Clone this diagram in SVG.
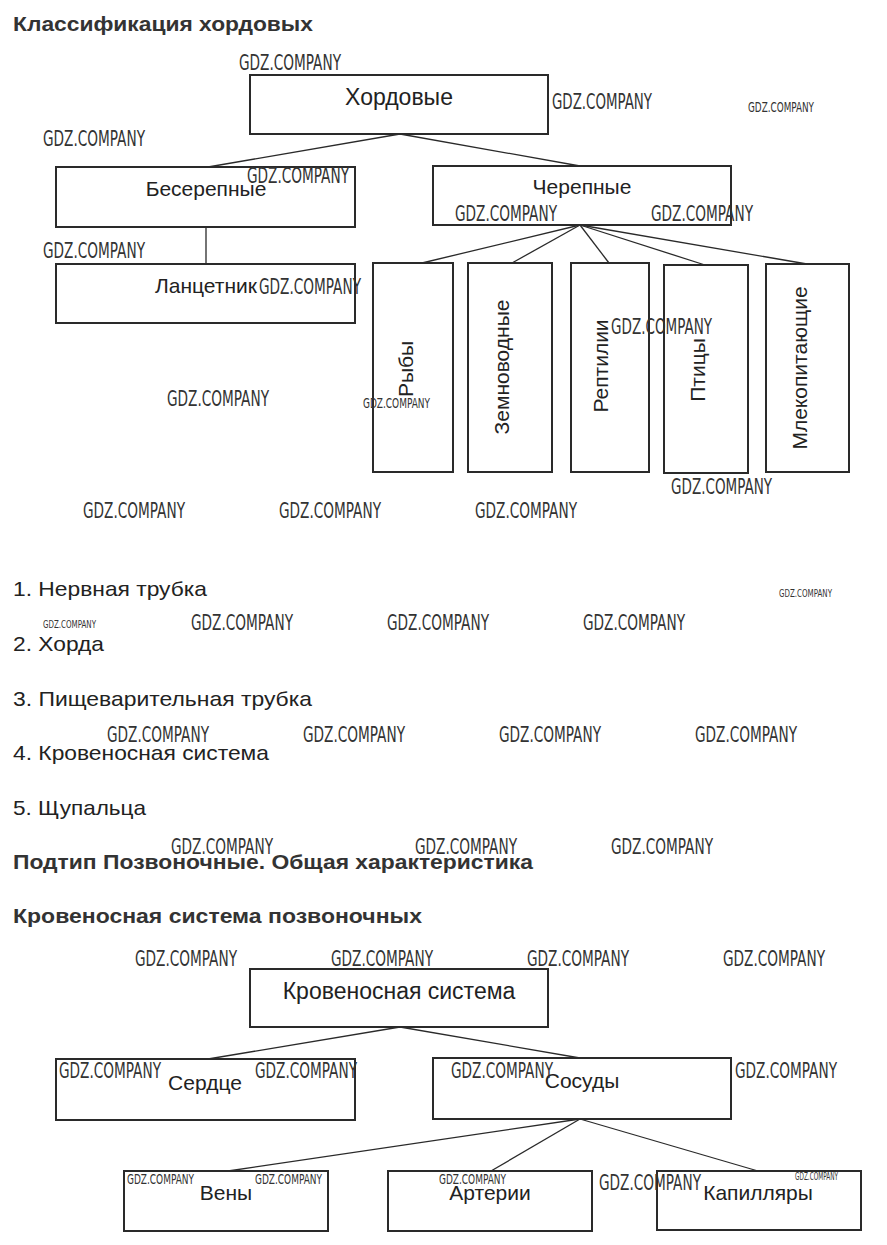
<svg xmlns="http://www.w3.org/2000/svg" width="887" height="1245" viewBox="0 0 887 1245">
<style>
.bg{fill:#fff}
.box{fill:#fff;stroke:#2a2a2a;stroke-width:2}
.ln{stroke:#2a2a2a;stroke-width:1.3;fill:none}
.lbl{font-family:"Liberation Sans",Arial,sans-serif;font-size:21px;fill:#222;text-anchor:middle}
.big{font-size:23px}
.h{font-family:"Liberation Sans",Arial,sans-serif;font-size:21px;font-weight:bold;fill:#333}
.li{font-family:"Liberation Sans",Arial,sans-serif;font-size:21px;fill:#222}
.wm{font-family:"Liberation Sans Narrow","DejaVu Sans Condensed","Liberation Sans",sans-serif;font-size:22px;fill:#333}
.wms{font-family:"Liberation Sans Narrow","DejaVu Sans Condensed","Liberation Sans",sans-serif;font-size:14px;fill:#333}
.wmt{font-family:"Liberation Sans Narrow","DejaVu Sans Condensed","Liberation Sans",sans-serif;font-size:10px;fill:#333}
</style>
<rect class="bg" x="0" y="0" width="887" height="1245"/>

<text class="h" x="13" y="31" textLength="300" lengthAdjust="spacingAndGlyphs">Классификация хордовых</text>

<g id="connectors1">
<line class="ln" x1="400" y1="134" x2="208" y2="167"/>
<line class="ln" x1="400" y1="134" x2="580" y2="166"/>
<line class="ln" x1="206" y1="227" x2="206" y2="264"/>
<line class="ln" x1="580" y1="225" x2="422" y2="263"/>
<line class="ln" x1="580" y1="225" x2="512" y2="263"/>
<line class="ln" x1="580" y1="225" x2="609" y2="263"/>
<line class="ln" x1="580" y1="225" x2="705" y2="265"/>
<line class="ln" x1="580" y1="225" x2="807" y2="264"/>
</g>

<g id="n-hordovye"><rect class="box" x="250" y="75" width="298" height="59"/><text class="lbl big" x="399" y="105">Хордовые</text></g>
<g id="n-beserepnye"><rect class="box" x="56" y="167" width="299" height="60"/><text class="lbl" x="206" y="196">Бесерепные</text></g>
<g id="n-cherepnye"><rect class="box" x="433" y="166" width="298" height="59"/><text class="lbl" x="582" y="194">Черепные</text></g>
<g id="n-lancetnik"><rect class="box" x="56" y="264" width="299" height="59"/><text class="lbl" x="206" y="293">Ланцетник</text></g>
<g id="n-ryby"><rect class="box" x="373" y="263" width="80" height="209"/><text class="lbl" transform="translate(413,369) rotate(-90)">Рыбы</text></g>
<g id="n-zemnovodnye"><rect class="box" x="468" y="263" width="84" height="209"/><text class="lbl" transform="translate(509,367) rotate(-90)">Земноводные</text></g>
<g id="n-reptilii"><rect class="box" x="571" y="263" width="78" height="209"/><text class="lbl" transform="translate(608,366) rotate(-90)">Рептилии</text></g>
<g id="n-pticy"><rect class="box" x="664" y="265" width="84" height="208"/><text class="lbl" transform="translate(705,370) rotate(-90)">Птицы</text></g>
<g id="n-mlekopitayushchie"><rect class="box" x="766" y="264" width="83" height="208"/><text class="lbl" transform="translate(807,368) rotate(-90)">Млекопитающие</text></g>

<text class="li" x="13" y="596" textLength="194" lengthAdjust="spacingAndGlyphs">1. Нервная трубка</text>
<text class="li" x="13" y="651" textLength="91" lengthAdjust="spacingAndGlyphs">2. Хорда</text>
<text class="li" x="13" y="706" textLength="299" lengthAdjust="spacingAndGlyphs">3. Пищеварительная трубка</text>
<text class="li" x="13" y="760" textLength="256" lengthAdjust="spacingAndGlyphs">4. Кровеносная система</text>
<text class="li" x="13" y="815" textLength="133" lengthAdjust="spacingAndGlyphs">5. Щупальца</text>

<text class="h" x="13" y="869" textLength="520" lengthAdjust="spacingAndGlyphs">Подтип Позвоночные. Общая характеристика</text>
<text class="h" x="13" y="923" textLength="409" lengthAdjust="spacingAndGlyphs">Кровеносная система позвоночных</text>

<g id="connectors2">
<line class="ln" x1="400" y1="1027" x2="208" y2="1059"/>
<line class="ln" x1="400" y1="1027" x2="580" y2="1058"/>
<line class="ln" x1="580" y1="1119" x2="228" y2="1171"/>
<line class="ln" x1="580" y1="1119" x2="491" y2="1171"/>
<line class="ln" x1="580" y1="1119" x2="758" y2="1171"/>
</g>

<g id="n-krovenosnaya"><rect class="box" x="250" y="969" width="298" height="58"/><text class="lbl big" x="399" y="999">Кровеносная система</text></g>
<g id="n-serdce"><rect class="box" x="56" y="1059" width="299" height="61"/><text class="lbl" x="205" y="1090">Сердце</text></g>
<g id="n-sosudy"><rect class="box" x="433" y="1058" width="298" height="61"/><text class="lbl" x="582" y="1088">Сосуды</text></g>
<g id="n-veny"><rect class="box" x="124" y="1171" width="204" height="60"/><text class="lbl" x="226" y="1200">Вены</text></g>
<g id="n-arterii"><rect class="box" x="388" y="1171" width="204" height="60"/><text class="lbl" x="490" y="1200">Артерии</text></g>
<g id="n-kapillyary"><rect class="box" x="657" y="1171" width="204" height="59"/><text class="lbl" x="758" y="1200">Капилляры</text></g>

<g id="watermarks">
<text class="wm" x="239" y="70" textLength="102" lengthAdjust="spacingAndGlyphs">GDZ.COMPANY</text>
<text class="wm" x="43" y="146" textLength="102" lengthAdjust="spacingAndGlyphs">GDZ.COMPANY</text>
<text class="wm" x="247" y="183" textLength="102" lengthAdjust="spacingAndGlyphs">GDZ.COMPANY</text>
<text class="wm" x="552" y="109" textLength="100" lengthAdjust="spacingAndGlyphs">GDZ.COMPANY</text>
<text class="wms" x="748" y="112" textLength="66" lengthAdjust="spacingAndGlyphs">GDZ.COMPANY</text>
<text class="wm" x="455" y="221" textLength="102" lengthAdjust="spacingAndGlyphs">GDZ.COMPANY</text>
<text class="wm" x="651" y="221" textLength="102" lengthAdjust="spacingAndGlyphs">GDZ.COMPANY</text>
<text class="wm" x="43" y="258" textLength="102" lengthAdjust="spacingAndGlyphs">GDZ.COMPANY</text>
<text class="wm" x="259" y="294" textLength="102" lengthAdjust="spacingAndGlyphs">GDZ.COMPANY</text>
<text class="wm" x="611" y="334" textLength="101" lengthAdjust="spacingAndGlyphs">GDZ.COMPANY</text>
<text class="wms" x="363" y="408" textLength="67" lengthAdjust="spacingAndGlyphs">GDZ.COMPANY</text>
<text class="wm" x="167" y="406" textLength="102" lengthAdjust="spacingAndGlyphs">GDZ.COMPANY</text>
<text class="wm" x="671" y="494" textLength="101" lengthAdjust="spacingAndGlyphs">GDZ.COMPANY</text>
<text class="wm" x="83" y="518" textLength="102" lengthAdjust="spacingAndGlyphs">GDZ.COMPANY</text>
<text class="wm" x="279" y="518" textLength="102" lengthAdjust="spacingAndGlyphs">GDZ.COMPANY</text>
<text class="wm" x="475" y="518" textLength="102" lengthAdjust="spacingAndGlyphs">GDZ.COMPANY</text>
<text class="wmt" x="779" y="597" textLength="53" lengthAdjust="spacingAndGlyphs">GDZ.COMPANY</text>
<text class="wmt" x="43" y="628" textLength="53" lengthAdjust="spacingAndGlyphs">GDZ.COMPANY</text>
<text class="wm" x="191" y="630" textLength="102" lengthAdjust="spacingAndGlyphs">GDZ.COMPANY</text>
<text class="wm" x="387" y="630" textLength="102" lengthAdjust="spacingAndGlyphs">GDZ.COMPANY</text>
<text class="wm" x="583" y="630" textLength="102" lengthAdjust="spacingAndGlyphs">GDZ.COMPANY</text>
<text class="wm" x="107" y="742" textLength="102" lengthAdjust="spacingAndGlyphs">GDZ.COMPANY</text>
<text class="wm" x="303" y="742" textLength="102" lengthAdjust="spacingAndGlyphs">GDZ.COMPANY</text>
<text class="wm" x="499" y="742" textLength="102" lengthAdjust="spacingAndGlyphs">GDZ.COMPANY</text>
<text class="wm" x="695" y="742" textLength="102" lengthAdjust="spacingAndGlyphs">GDZ.COMPANY</text>
<text class="wm" x="171" y="854" textLength="102" lengthAdjust="spacingAndGlyphs">GDZ.COMPANY</text>
<text class="wm" x="415" y="854" textLength="102" lengthAdjust="spacingAndGlyphs">GDZ.COMPANY</text>
<text class="wm" x="611" y="854" textLength="102" lengthAdjust="spacingAndGlyphs">GDZ.COMPANY</text>
<text class="wm" x="135" y="966" textLength="102" lengthAdjust="spacingAndGlyphs">GDZ.COMPANY</text>
<text class="wm" x="331" y="966" textLength="102" lengthAdjust="spacingAndGlyphs">GDZ.COMPANY</text>
<text class="wm" x="527" y="966" textLength="102" lengthAdjust="spacingAndGlyphs">GDZ.COMPANY</text>
<text class="wm" x="723" y="966" textLength="102" lengthAdjust="spacingAndGlyphs">GDZ.COMPANY</text>
<text class="wm" x="59" y="1078" textLength="102" lengthAdjust="spacingAndGlyphs">GDZ.COMPANY</text>
<text class="wm" x="255" y="1078" textLength="102" lengthAdjust="spacingAndGlyphs">GDZ.COMPANY</text>
<text class="wm" x="451" y="1078" textLength="102" lengthAdjust="spacingAndGlyphs">GDZ.COMPANY</text>
<text class="wm" x="735" y="1078" textLength="102" lengthAdjust="spacingAndGlyphs">GDZ.COMPANY</text>
<text class="wms" x="127" y="1184" textLength="67" lengthAdjust="spacingAndGlyphs">GDZ.COMPANY</text>
<text class="wms" x="255" y="1184" textLength="67" lengthAdjust="spacingAndGlyphs">GDZ.COMPANY</text>
<text class="wms" x="439" y="1184" textLength="67" lengthAdjust="spacingAndGlyphs">GDZ.COMPANY</text>
<text class="wm" x="599" y="1190" textLength="102" lengthAdjust="spacingAndGlyphs">GDZ.COMPANY</text>
<text class="wmt" x="795" y="1180" textLength="43" lengthAdjust="spacingAndGlyphs">GDZ.COMPANY</text>
</g>
</svg>
